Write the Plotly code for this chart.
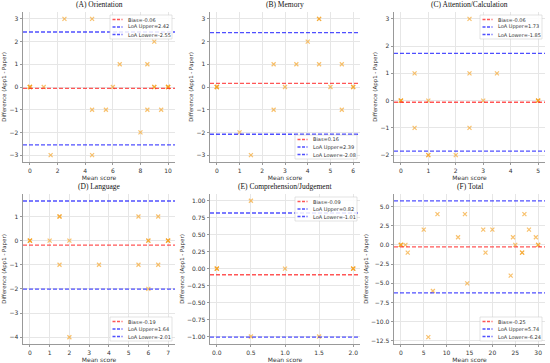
import plotly.graph_objects as go

W, H = 550, 363

titles = ["(A) Orientation", "(B) Memory", "(C) Attention/Calculation",
          "(D) Language", "(E) Comprehension/Judgement", "(F) Total"]

# (A) Orientation
orient_mean = [2.5, 4.5, 9, 6.5, 8.5, 0, 0, 0, 1, 6, 9, 9, 10, 10, 10, 4.5, 5.5, 8.5, 9.5, 8, 1.5, 4.5]
orient_diff = [3, 3, 2, 1, 1, 0, 0, 0, 0, 0, 0, 0, 0, 0, 0, -1, -1, -1, -1, -2, -3, -3]
# (B) Memory
memory_mean = [4.5, 4.5, 4, 2.5, 3.5, 4.5, 5.5, 0, 0, 0, 3, 5, 6, 6, 2.5, 5.5, 1, 1.5]
memory_diff = [3, 3, 2, 1, 1, 1, 1, 0, 0, 0, 0, 0, 0, 0, -1, -1, -2, -3]
# (C) Attention/Calculation
attn_mean = [2.5, 0.5, 2.5, 3.5, 0, 0, 0, 1, 3, 5, 5, 5, 0.5, 2.5, 1, 1, 2]
attn_diff = [3, 1, 1, 1, 0, 0, 0, 0, 0, 0, 0, 0, -1, -1, -2, -2, -2]
# (D) Language
lang_mean = [1.5, 1.5, 5.5, 6.5, 0, 0, 0, 1, 2, 6, 6, 7, 7, 7, 1.5, 3.5, 5.5, 6.5, 6, 2]
lang_diff = [1, 1, 1, 1, 0, 0, 0, 0, 0, 0, 0, 0, 0, 0, -1, -1, -1, -1, -2, -4]
# (E) Comprehension/Judgement
comp_mean = [0.5, 0, 0, 0, 1, 2, 2, 2, 0.5, 1.5]
comp_diff = [1, 0, 0, 0, 0, 0, 0, 0, -1, -1]
# (F) Total
total_mean = [8, 14, 27, 5, 18, 20, 28, 12.5, 24.5, 29.5, 0, 0, 0, 1, 25, 30, 30,
              1.5, 18.5, 26.5, 26.5, 24, 14.5, 7, 6]
total_diff = [4, 4, 4, 2, 2, 2, 2, 1, 1, 1, 0, 0, 0, 0, 0, 0, 0,
              -1, -1, -1, -1, -4, -5, -6, -12]

means = [orient_mean, memory_mean, attn_mean, lang_mean, comp_mean, total_mean]
diffs = [orient_diff, memory_diff, attn_diff, lang_diff, comp_diff, total_diff]

bias = [-0.06, 0.16, -0.06, -0.19, -0.09, -0.25]
loa_upper = [2.42, 2.39, 1.73, 1.64, 0.82, 5.74]
loa_lower = [-2.55, -2.08, -1.85, -2.01, -1.01, -6.24]

x_ticks = [[0, 2, 4, 6, 8, 10], [0, 1, 2, 3, 4, 5, 6], [0, 1, 2, 3, 4, 5],
           [0, 1, 2, 3, 4, 5, 6, 7], [0, 0.5, 1.0, 1.5, 2.0], [0, 5, 10, 15, 20, 25, 30]]
y_ticks = [[-3, -2, -1, 0, 1, 2, 3], [-3, -2, -1, 0, 1, 2, 3], [-2, -1, 0, 1, 2, 3],
           [-4, -3, -2, -1, 0, 1], [-1, -0.75, -0.5, -0.25, 0, 0.25, 0.5, 0.75, 1.0],
           [-12.5, -10, -7.5, -5, -2.5, 0, 2.5, 5]]
x_fmt = ["d", "d", "d", "d", ".1f", "d"]
y_fmt = ["d", "d", "d", "d", ".2f", ".1f"]

x_ranges = [[-0.5, 10.5], [-0.3, 6.3], [-0.25, 5.25], [-0.35, 7.35], [-0.1, 2.1], [-1.5, 31.5]]
y_ranges = [[-3.3, 3.3], [-3.3, 3.3], [-2.25, 3.25], [-4.28, 1.93], [-1.11, 1.10], [-12.9, 6.63]]

legend_loc = ["upper", "lower", "upper", "lower", "upper", "lower"]

# panel boxes in pixels: left, right, top, bottom
cols = [(23, 175), (210, 360), (394, 545)]
rows = [(12, 162), (194, 344)]

RED = "rgba(255,30,30,0.75)"
BLUE = "rgba(20,20,255,0.75)"
MARK = "rgba(245,160,30,0.65)"
SANS = "DejaVu Sans"
SERIF = "Liberation Serif"

fig = go.Figure()
layout = {}
shapes = []
annotations = []

for i in range(6):
    r, c = divmod(i, 3)
    L, R = cols[c]
    T, B = rows[r]
    n = "" if i == 0 else str(i + 1)
    xa, ya = "x" + n, "y" + n

    fig.add_trace(go.Scatter(
        x=means[i], y=diffs[i], mode="markers", xaxis=xa, yaxis=ya, showlegend=False,
        marker=dict(symbol="x-thin", size=4, color=MARK, line=dict(width=1.2, color=MARK)),
        hoverinfo="skip"))

    for val, col in ((bias[i], RED), (loa_upper[i], BLUE), (loa_lower[i], BLUE)):
        shapes.append(dict(type="line", xref=xa + " domain", yref=ya, x0=0, x1=1,
                           y0=val, y1=val, line=dict(color=col, width=1.3, dash="4px,2px")))

    axis_common = dict(showgrid=True, gridcolor="#e6e6e6", gridwidth=0.6,
                       showline=True, linecolor="#999", linewidth=0.8,
                       ticks="outside", ticklen=2.5, tickcolor="#999", tickwidth=0.8,
                       tickfont=dict(size=6, family=SANS, color="#333"),
                       zeroline=False, fixedrange=True)
    layout["xaxis" + n] = dict(axis_common, domain=[L / W, R / W], range=x_ranges[i],
                               anchor=ya, tickvals=x_ticks[i], tickformat=x_fmt[i],
                               title=dict(text="Mean score", standoff=1,
                                          font=dict(size=6, family=SANS, color="#333")))
    layout["yaxis" + n] = dict(axis_common, domain=[1 - B / H, 1 - T / H], range=y_ranges[i],
                               anchor=xa, tickvals=y_ticks[i], tickformat=y_fmt[i],
                               title=dict(text="Difference (App1 - Paper)", standoff=2,
                                          font=dict(size=5.5, family=SANS, color="#333")))

    annotations.append(dict(text=titles[i], xref="paper", yref="paper",
                            x=(L + R) / 2 / W, y=1 - (T - 1.5) / H,
                            xanchor="center", yanchor="bottom", showarrow=False,
                            font=dict(size=7.5, family=SERIF, color="#111")))

    # manual legend box
    bw, bh = 62, 24
    bx1 = R - 3
    bx0 = bx1 - bw
    if legend_loc[i] == "upper":
        by0 = T + 3
    else:
        by0 = B - 3 - bh
    by1 = by0 + bh
    shapes.append(dict(type="rect", xref="paper", yref="paper",
                       x0=bx0 / W, x1=bx1 / W, y0=1 - by1 / H, y1=1 - by0 / H,
                       fillcolor="rgba(255,255,255,0.85)", line=dict(color="#d0d0d0", width=0.6)))
    labels = [f"Bias={bias[i]:.2f}", f"LoA Upper={loa_upper[i]:.2f}", f"LoA Lower={loa_lower[i]:.2f}"]
    colors = [RED, BLUE, BLUE]
    for k in range(3):
        yy = by0 + 4.5 + k * 7.5
        shapes.append(dict(type="line", xref="paper", yref="paper",
                           x0=(bx0 + 2.5) / W, x1=(bx0 + 12.5) / W, y0=1 - yy / H, y1=1 - yy / H,
                           line=dict(color=colors[k], width=1.3, dash="3px,1.5px")))
        annotations.append(dict(text=labels[k], xref="paper", yref="paper",
                                x=(bx0 + 15.5) / W, y=1 - yy / H, xanchor="left", yanchor="middle",
                                showarrow=False, font=dict(size=5, family=SANS, color="#333")))

fig.update_layout(**layout)
fig.update_layout(width=W, height=H, margin=dict(l=0, r=0, t=0, b=0),
                  paper_bgcolor="white", plot_bgcolor="white",
                  shapes=shapes, annotations=annotations, showlegend=False)

fig.write_html("out.html", config={"displayModeBar": False},
               post_script="document.body.style.margin='0';document.body.style.overflow='hidden';")
